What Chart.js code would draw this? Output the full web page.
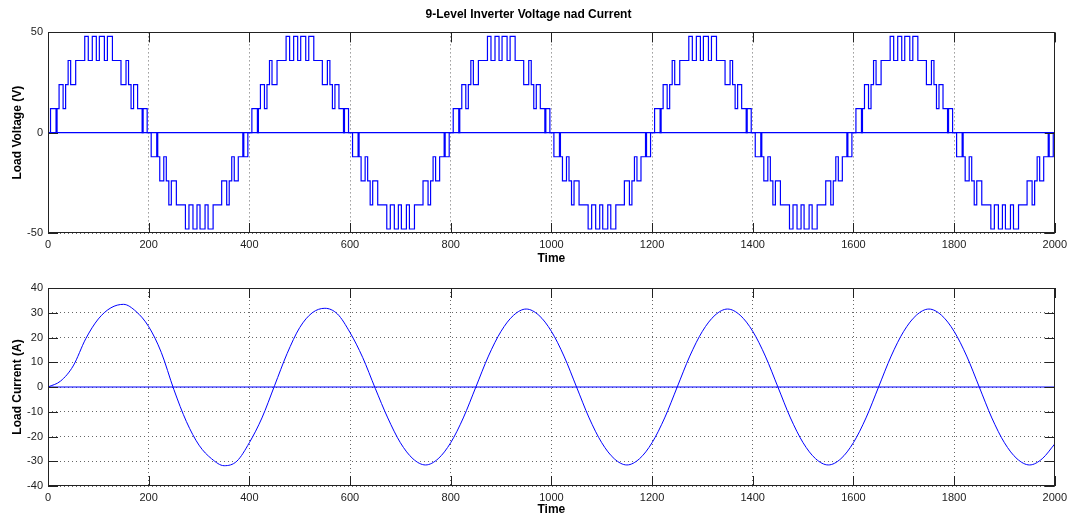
<!DOCTYPE html>
<html>
<head>
<meta charset="utf-8">
<script src="https://cdn.jsdelivr.net/npm/chart.js@4/dist/chart.umd.min.js"></script>
<style>
  html, body { margin: 0; padding: 0; background: #fff; }
  #wrap { position: relative; width: 1072px; height: 518px; }
  .box { position: absolute; left: 0; width: 1072px; }
  #topBox { top: 0; height: 268px; }
  #botBox { top: 268px; height: 250px; }
</style>
</head>
<body>
<div id="wrap">
  <div class="box" id="topBox"><canvas id="voltageChart"></canvas></div>
  <div class="box" id="botBox"><canvas id="currentChart"></canvas></div>
</div>
<script>
// Datos
const timeTicks = [0, 200, 400, 600, 800, 1000, 1200, 1400, 1600, 1800, 2000];
const voltageTicks = [-50, 0, 50];
const currentTicks = [-40, -30, -20, -10, 0, 10, 20, 30, 40];

// conmutaciones de un semiciclo positivo (tiempo, nivel)
const halfCycleTimes = [0, 5, 16, 18, 22, 30, 35, 40, 45, 55, 73, 80, 88, 96, 102, 112, 118, 128, 145, 155, 160, 165, 170, 178, 187, 189, 197];
const halfCycleLevels = [0, 12, 0, 12, 24, 12, 24, 36, 24, 36, 48, 36, 48, 36, 48, 36, 48, 36, 24, 36, 24, 12, 24, 12, 0, 12, 0];
const cycleStarts = [0, 400, 800, 1200, 1600];

// corriente de carga cada 25 unidades de tiempo
const currentTimes = [];
for (let t = 0; t <= 2000; t += 25) currentTimes.push(t);
const currentValues = [
  0, 2.4, 8.5, 19.5, 27.5, 32, 33.4, 30.5, 24.4, 14, -1, -14, -23.5, -29, -31.8, -30, -22.5,
  -12.5, 0.5, 13.5, 24, 30, 31.8, 29.5, 22, 12, -0.5, -12.5, -22.5, -29, -31.5, -29, -22.5,
  -12.5, 0, 12.5, 22.5, 29, 31.5, 29, 22.5, 12.5, 0, -12.5, -22.5, -29, -31.5, -29, -22.5,
  -12.5, 0, 12.5, 22.5, 29, 31.5, 29, 22.5, 12.5, 0, -12.5, -22.5, -29, -31.5, -29, -22.5,
  -12.5, 0, 12.5, 22.5, 29, 31.5, 29, 22.5, 12.5, 0, -12.5, -22.5, -29, -31.5, -29, -23
];

// armar la serie escalonada del voltaje
const voltagePoints = [];
cycleStarts.forEach(s => {
  halfCycleTimes.forEach((t, i) => voltagePoints.push({x: s + t, y: halfCycleLevels[i]}));
  halfCycleTimes.forEach((t, i) => voltagePoints.push({x: s + 200 + t, y: -halfCycleLevels[i]}));
});
voltagePoints.push({x: 2000, y: 0});

const currentPoints = currentTimes.map((t, i) => ({x: t, y: currentValues[i]}));
const zeroLine = [{x: 0, y: 0}, {x: 2000, y: 0}];

const FONT = "'Liberation Sans', Arial, sans-serif";
const BLUE = 'rgb(0,0,255)';

// marco y marcas de eje hacia adentro (estilo MATLAB)
const framePlugin = {
  id: 'frame',
  afterDatasetsDraw(chart) {
    const {ctx, chartArea: a, scales} = chart;
    const px = v => Math.round(v) + 0.5;
    ctx.save();
    ctx.strokeStyle = '#222';
    ctx.lineWidth = 1;
    ctx.strokeRect(px(a.left), px(a.top), Math.round(a.right) - Math.round(a.left) - 1, Math.round(a.bottom) - Math.round(a.top) - 1);
    ctx.beginPath();
    scales.x.ticks.forEach(t => {
      const x = px(scales.x.getPixelForValue(t.value));
      ctx.moveTo(x, a.bottom); ctx.lineTo(x, a.bottom - 10);
      ctx.moveTo(x, a.top); ctx.lineTo(x, a.top + 10);
    });
    scales.y.ticks.forEach(t => {
      const y = px(scales.y.getPixelForValue(t.value));
      ctx.moveTo(a.left, y); ctx.lineTo(a.left + 10, y);
      ctx.moveTo(a.right, y); ctx.lineTo(a.right - 10, y);
    });
    ctx.stroke();
    ctx.restore();
  }
};

function xAxis(height, titlePad) {
  return {
    type: 'linear', min: 0, max: 2000,
    afterBuildTicks: s => { s.ticks = timeTicks.map(v => ({value: v})); },
    afterFit: s => { s.height = height; },
    grid: { color: '#666', drawTicks: false },
    border: { display: false, dash: [1, 3] },
    ticks: { color: '#222', font: {family: FONT, size: 11}, padding: 5, maxRotation: 0, callback: v => String(v) },
    title: { display: true, text: 'Time', color: '#000', font: {family: FONT, size: 12, weight: 'bold'}, padding: {top: 0, bottom: titlePad} }
  };
}

function yAxis(label, min, max, ticks) {
  return {
    type: 'linear', min: min, max: max,
    afterBuildTicks: s => { s.ticks = ticks.map(v => ({value: v})); },
    afterFit: s => { s.width = 48; },
    grid: { color: '#666', drawTicks: false },
    border: { display: false, dash: [1, 3] },
    ticks: { color: '#222', font: {family: FONT, size: 11}, padding: 5, callback: v => String(v) },
    title: { display: true, text: label, color: '#000', font: {family: FONT, size: 12, weight: 'bold'}, padding: {top: 10, bottom: 0} }
  };
}

const common = {
  responsive: true,
  maintainAspectRatio: false,
  animation: false,
  events: [],
  elements: { point: { radius: 0 } }
};

new Chart(document.getElementById('voltageChart'), {
  type: 'line',
  data: {
    datasets: [
      { data: zeroLine, borderColor: BLUE, borderWidth: 1.2, fill: false },
      { data: voltagePoints, borderColor: BLUE, borderWidth: 1.2, stepped: true, fill: false }
    ]
  },
  options: Object.assign({}, common, {
    layout: { padding: {left: 0, right: 15, top: 0, bottom: 0} },
    plugins: {
      legend: { display: false },
      tooltip: { enabled: false },
      title: {
        display: true,
        text: '9-Level Inverter Voltage nad Current',
        color: '#000',
        font: {family: FONT, size: 12, weight: 'bold'},
        padding: {top: 7, bottom: 11}
      }
    },
    scales: { x: xAxis(35, 2), y: yAxis('Load Voltage (V)', -50, 50, voltageTicks) }
  }),
  plugins: [framePlugin]
});

new Chart(document.getElementById('currentChart'), {
  type: 'line',
  data: {
    datasets: [
      { data: zeroLine, borderColor: BLUE, borderWidth: 1.2, fill: false },
      { data: currentPoints, borderColor: BLUE, borderWidth: 1, cubicInterpolationMode: 'monotone', fill: false }
    ]
  },
  options: Object.assign({}, common, {
    layout: { padding: {left: 0, right: 15, top: 20, bottom: 0} },
    plugins: { legend: { display: false }, tooltip: { enabled: false } },
    scales: { x: xAxis(32, 1), y: yAxis('Load Current (A)', -40, 40, currentTicks) }
  }),
  plugins: [framePlugin]
});
</script>
</body>
</html>
